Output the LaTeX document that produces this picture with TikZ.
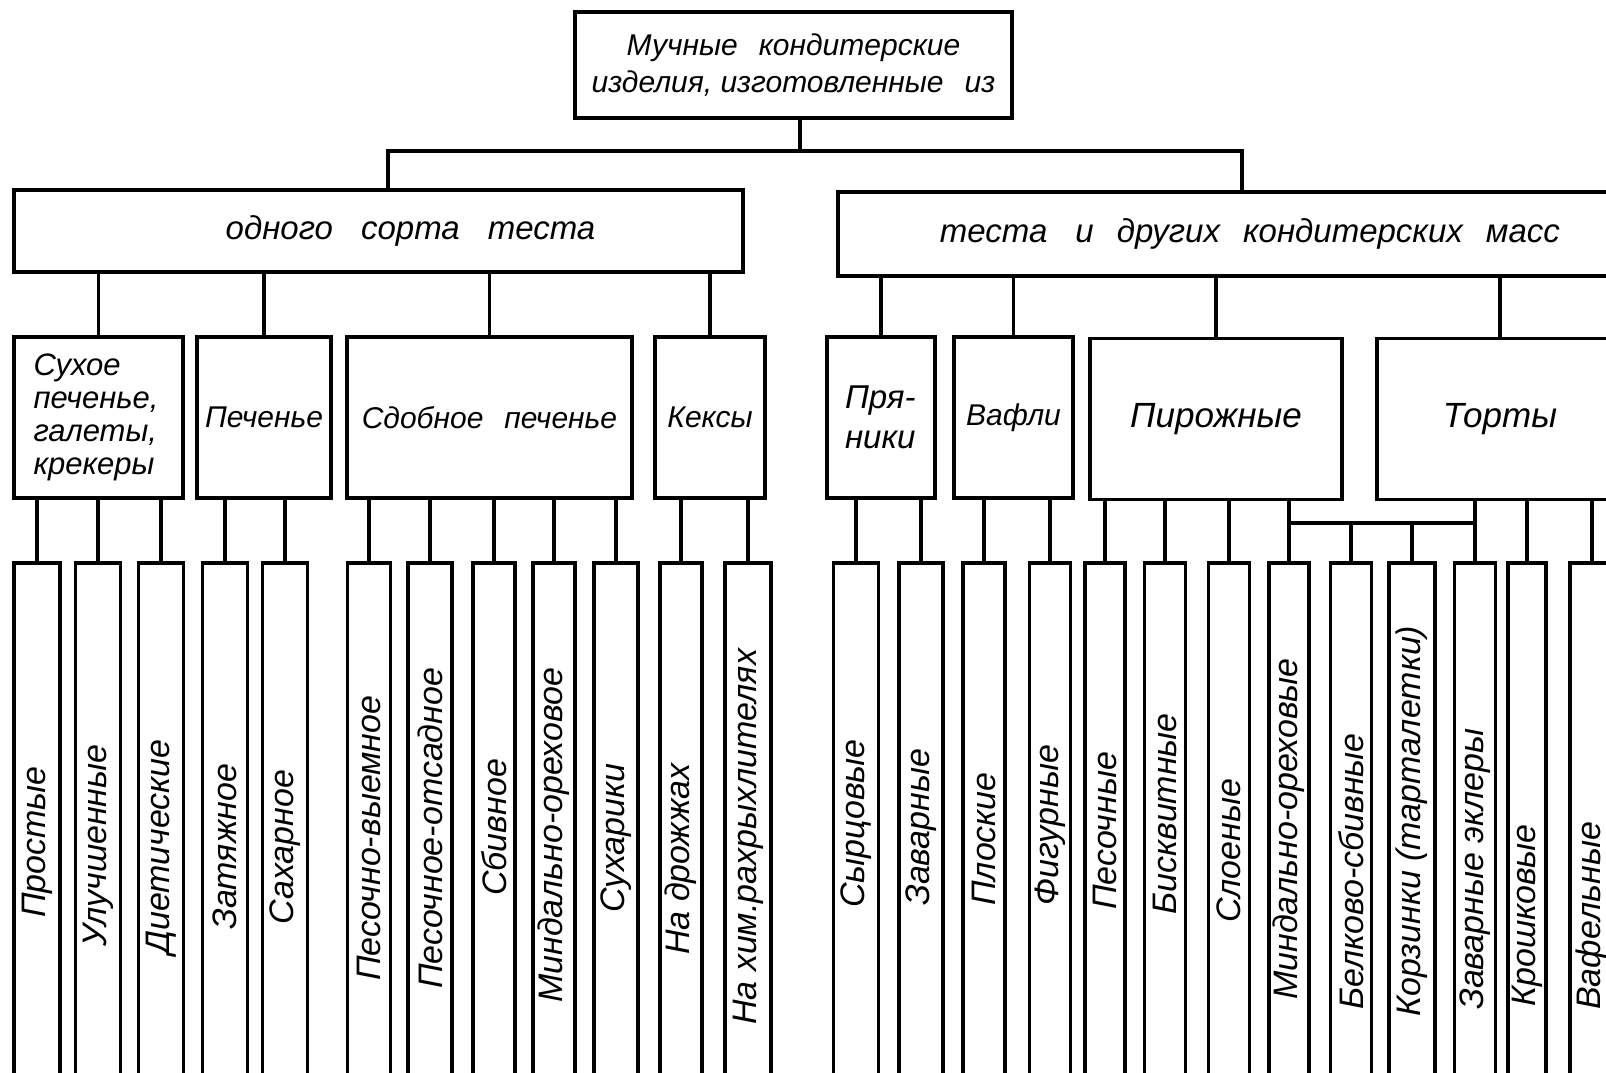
\documentclass[tikz,border=0pt]{standalone}
\usepackage{fontspec}
\setmainfont{Liberation Sans}
\newcommand{\wsp}{\hspace{0.7em}}
\newcommand{\wwsp}{\hspace{0.85em}}
\begin{document}
\begin{tikzpicture}[x=1pt,y=-1pt,
  ln/.style={line width=3.1pt},
  bx/.style={draw, line width=3.1pt, inner sep=0pt, align=center, font=\itshape\fontsize{30}{33}\selectfont},
  lfbox/.style={draw, line width=3.1pt, inner sep=0pt, minimum height=567pt, minimum width=#1pt},
  lt/.style={rotate=90, anchor=west, inner sep=0pt, font=\itshape\fontsize{34}{40}\selectfont}]
\useasboundingbox (0,0) rectangle (1606,1072);
\fill[white] (0,0) rectangle (1606,1072);
\clip (0,0) rectangle (1606,1072);

% top
\node[bx, minimum width=437pt, minimum height=106pt, font=\itshape\fontsize{30}{37}\selectfont] (top) at (793.5,65)
  {Мучные\wsp кондитерские\\изделия, изготовленные\wsp из};

% middle level
\node[bx, minimum width=729pt, minimum height=82pt, font=\itshape\fontsize{33}{38}\selectfont] (midL) at (378.5,231)
  {\hspace*{64pt}одного\wwsp сорта\wwsp теста};
\node[bx, minimum width=778pt, minimum height=84pt, font=\itshape\fontsize{33}{38}\selectfont] (midR) at (1227,234)
  {\hspace*{46pt}теста\wwsp и\wsp других\wsp кондитерских\wsp масс};

\coordinate (j0) at (800,151);
\coordinate (xL) at (388,151);
\coordinate (xR) at (1242,151);
\draw[ln] (top.south -| j0) -- (j0);
\draw[ln] (midL.north -| xL) -- (xL) -- (xR) -- (midR.north -| xR);

% categories
\node[bx, minimum width=169pt, minimum height=161pt, align=left, font=\itshape\fontsize{31}{33}\selectfont] (c1) at (98.5,417.5) {\raisebox{-6pt}{\parbox{130pt}{Сухое\\печенье,\\галеты,\\крекеры}}};
\node[bx, minimum width=134pt, minimum height=161pt] (c2) at (264,417.5) {Печенье};
\node[bx, minimum width=285pt, minimum height=161pt] (c3) at (489.5,417.5) {Сдобное\wsp печенье};
\node[bx, minimum width=110pt, minimum height=161pt] (c4) at (710,417.5) {Кексы};
\node[bx, minimum width=108pt, minimum height=161pt, align=left, font=\itshape\fontsize{33}{40}\selectfont] (c5) at (881,417.5) {\raisebox{8pt}{\parbox{72pt}{Пря-\\ники}}};
\node[bx, minimum width=119pt, minimum height=161pt] (c6) at (1013.5,417.5) {Вафли};
\node[bx, minimum width=252pt, minimum height=161pt, font=\itshape\fontsize{35}{40}\selectfont] (c7) at (1216,419) {Пирожные};
\node[bx, minimum width=246pt, minimum height=161pt, font=\itshape\fontsize{35}{40}\selectfont] (c8) at (1500,419) {Торты};

\foreach \c in {c1,c2,c3,c4} \draw[ln] (\c.north) -- (\c.north |- midL.south);
\foreach \c in {c5,c6,c7,c8} \draw[ln] (\c.north) -- (\c.north |- midR.south);

% leaves
\foreach \n/\x/\w/\yb/\t in {
  1/37/46/918/Простые,
  2/98/45/947/Улучшенные,
  3/161/45/955/Диетические,
  4/225/45/930/Затяжное,
  5/285/45/925/Сахарное,
  6/369/43/981/Песочно-выемное,
  7/430/44/989/Песочное-отсадное,
  8/494/42/896/Сбивное,
  9/554/42/1003/Миндально-ореховое,
  10/616/44/913/Сухарики,
  11/681/42/955/На дрожжах,
  12/748/46/1025/На хим.рахрыхлителях,
  13/856/45/908/Сырцовые,
  14/921/44/906/Заварные,
  15/984/42/906/Плоские,
  16/1050/41/906/Фигурные,
  17/1105/40/910/Песочные,
  18/1165/41/915/Бисквитные,
  19/1229/41/923/Слоеные,
  20/1289/40/1000/Миндально-ореховые,
  21/1351/41/1010/Белково-сбивные,
  22/1412/46/1017/Корзинки (тарталетки),
  23/1475/41/1010/Заварные эклеры,
  24/1527/38/1007/Крошковые,
  25/1592/44/1010/Вафельные}
{
  \node[lfbox=\w] (l\n) at (\x,846.5) {};
  \node[lt] (t\n) at (\x,\yb) {\t};
}

% category to leaf connectors
\foreach \c/\l in {c1/l1,c1/l2,c1/l3,c2/l4,c2/l5,c3/l6,c3/l7,c3/l8,c3/l9,c3/l10,c4/l11,c4/l12,
  c5/l13,c5/l14,c6/l15,c6/l16,c7/l17,c7/l18,c7/l19,c7/l20,c8/l23,c8/l24,c8/l25}
  \draw[ln] (\l.north) -- (\l.north |- \c.south);

% shared bus between Pirozhnye and Torty
\coordinate (sb) at (0,523);
\draw[ln] (l20.north |- sb) -- (l23.north |- sb);
\draw[ln] (l21.north) -- (l21.north |- sb);
\draw[ln] (l22.north) -- (l22.north |- sb);
\end{tikzpicture}
\end{document}
